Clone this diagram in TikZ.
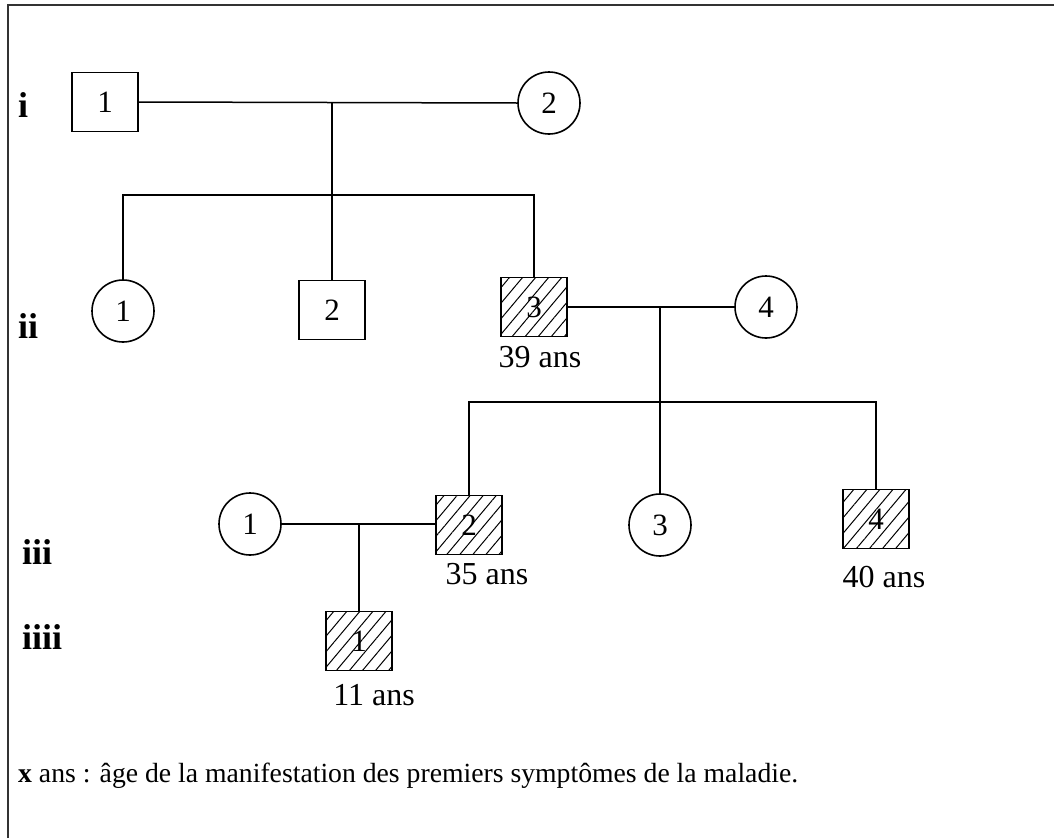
\documentclass[tikz,border=0pt]{standalone}
\usepackage{fontspec}
\setmainfont{Liberation Serif}
\usetikzlibrary{patterns.meta}
\begin{document}
\begin{tikzpicture}[x=1pt,y=-1pt,
  male/.style={draw,line width=1.6pt,minimum width=66pt,minimum height=59pt,inner sep=0pt,font=\fontsize{31}{31}\selectfont},
  female/.style={draw,circle,line width=1.6pt,minimum size=62pt,inner sep=0pt,font=\fontsize{31}{31}\selectfont},
  hatched/.style={male,pattern={Lines[angle=50,distance=10pt,line width=1pt]}},
  link/.style={line width=1.5pt},
  agelbl/.style={font=\fontsize{32}{32}\selectfont,inner sep=0pt},
  genlbl/.style={font=\fontsize{36}{36}\selectfont\bfseries,anchor=west,inner sep=0pt},
  frameline/.style={line width=2pt,draw=black!80}]
\useasboundingbox (0,0) rectangle (1054,838);
\draw[frameline] (8,838) -- (8,5) -- (1054,5);
% generation labels
\node[genlbl] (gi) at (18,105) {i};
\node[genlbl] (gii) at (18,326) {ii};
\node[genlbl] (giii) at (22,552) {iii};
\node[genlbl] (giiii) at (22,637) {iiii};
% generation I
\node[male] (I1) at (105,102) {1};
\node[female] (I2) at (549,103) {2};
% generation II
\node[female] (II1) at (123,311) {1};
\node[male] (II2) at (332,310) {2};
\node[hatched] (II3) at (534,307) {3};
\node[female] (II4) at (766,307) {4};
% generation III
\node[female] (III1) at (250,524) {1};
\node[hatched] (III2) at (469,525) {2};
\node[female] (III3) at (660,525) {3};
\node[hatched] (III4) at (876,519) {4};
% generation IIII
\node[hatched] (IIII1) at (359,641) {1};
% ages
\node[agelbl] (a39) at (540,357) {39 ans};
\node[agelbl] (a35) at (487,574) {35 ans};
\node[agelbl] (a40) at (884,577) {40 ans};
\node[agelbl] (a11) at (374,695) {11 ans};
% connectors
\coordinate (m1) at (332,102);
\coordinate (s1) at (332,195);
\draw[link] (I1.east) -- (I2.west);
\draw[link] (m1) -- (II2.north);
\draw[link] (II1.north) |- (s1) -| (II3.north);
\coordinate (m2) at (660,307);
\coordinate (s2) at (660,402);
\draw[link] (II3.east) -- (II4.west);
\draw[link] (m2) -- (III3.north);
\draw[link] (III2.north) |- (s2) -| (III4.north);
\coordinate (m3) at (359,524);
\draw[link] (III1.east) -- (III2.west |- m3);
\draw[link] (m3) -- (IIII1.north);
% legend
\node[anchor=west,inner sep=0pt,font=\fontsize{27.7}{28}\selectfont] (legend) at (18,776) {\textbf{x} ans : âge de la manifestation des premiers symptômes de la maladie.};
\end{tikzpicture}
\end{document}
